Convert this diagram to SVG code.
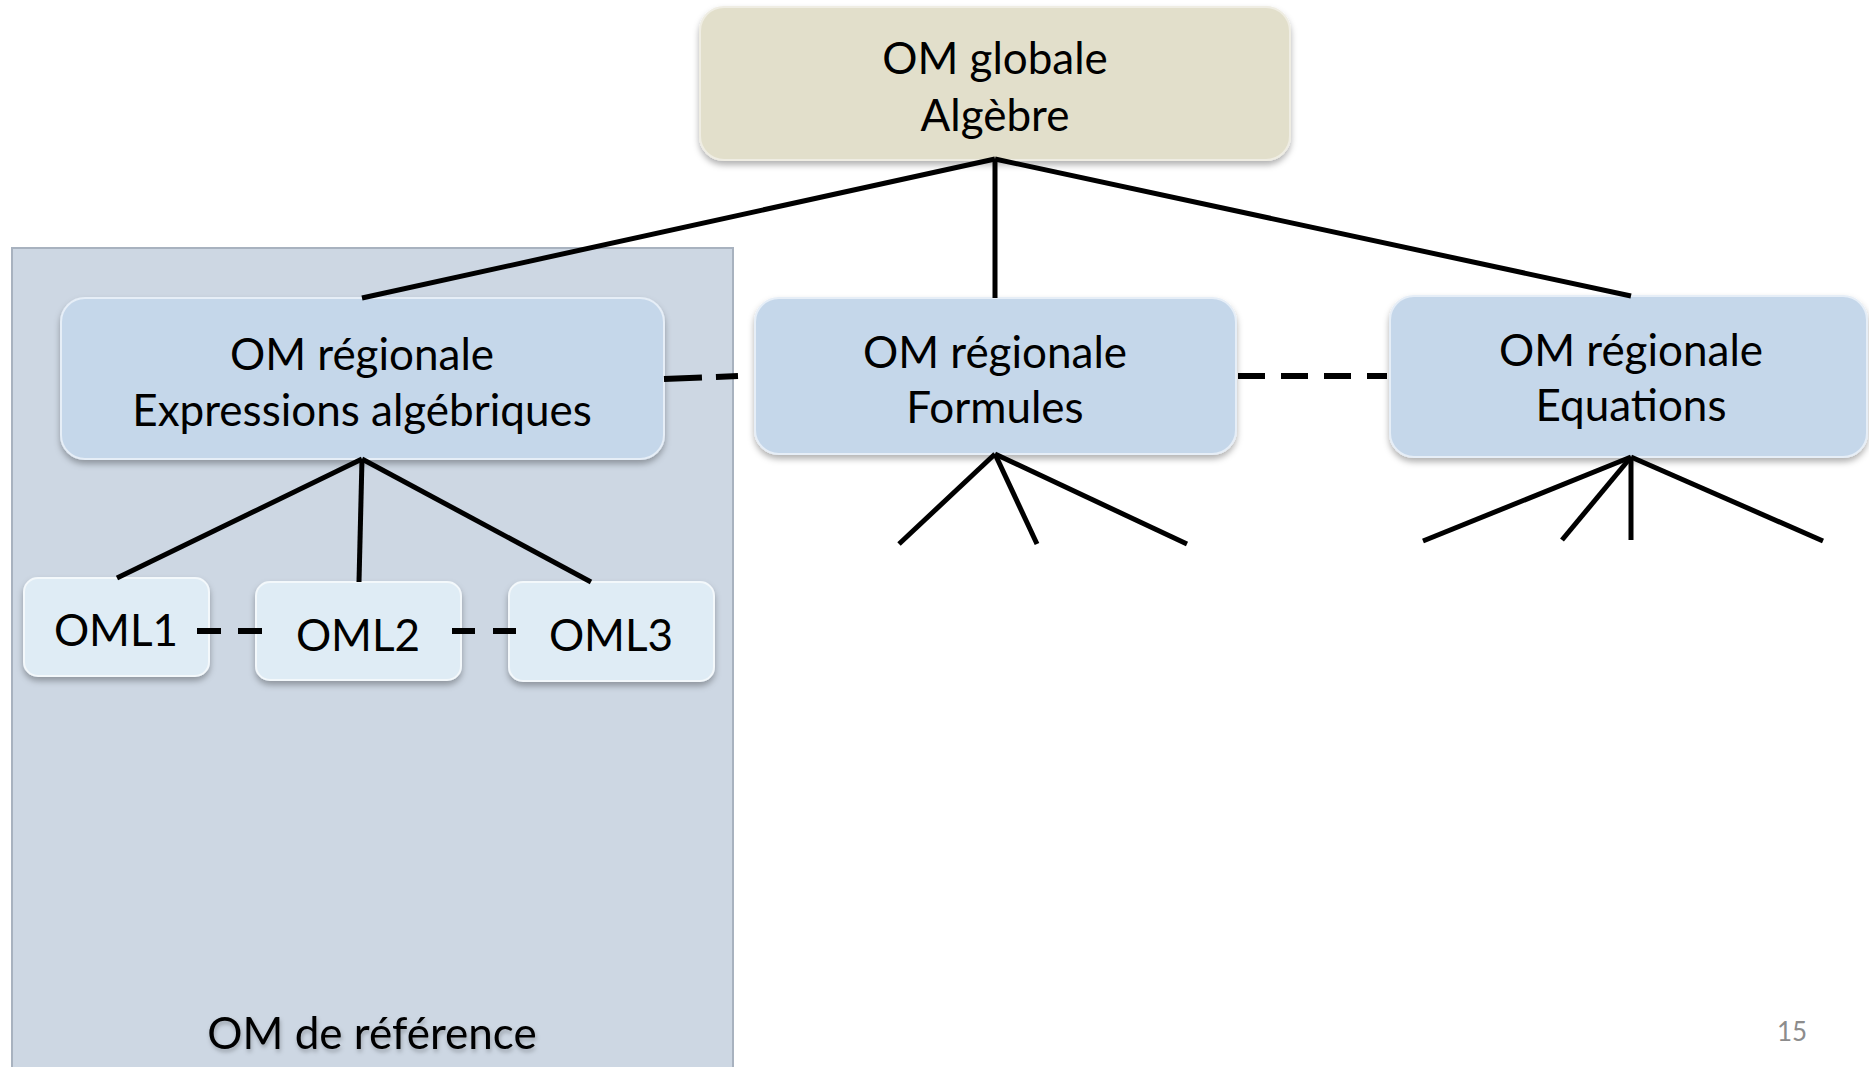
<svg xmlns="http://www.w3.org/2000/svg" width="1869" height="1067" viewBox="0 0 1869 1067">
<defs>
<filter id="sh" x="-10%" y="-10%" width="120%" height="130%">
<feDropShadow dx="0" dy="4" stdDeviation="3" flood-color="#000" flood-opacity="0.3"/>
</filter>
<filter id="tsh" x="-5%" y="-20%" width="110%" height="150%">
<feDropShadow dx="1" dy="3" stdDeviation="2" flood-color="#000" flood-opacity="0.25"/>
</filter>
</defs>
<style>
text{font-family:Lato,"Open Sans",sans-serif;fill:#000;text-anchor:middle}
.t{font-size:44px}
.reg{fill:#c5d7ea;stroke:#e6eef7;stroke-width:2}
.oml{fill:#dfecf5;stroke:#f3f8fb;stroke-width:2}
.solid{stroke:#000;stroke-width:5;fill:none}
.dash{stroke:#000;stroke-width:6;fill:none}
</style>
<rect x="0" y="0" width="1869" height="1067" fill="#fff"/>
<g id="panel">
<rect x="12" y="248" width="721" height="830" fill="#cdd7e3" stroke="#a8b2bf" stroke-width="2"/>
<text class="t" x="372" y="1049" filter="url(#tsh)">OM de référence</text>
</g>
<g id="om-globale">
<rect x="700" y="7" width="590" height="153" rx="24" fill="#e2dfcb" stroke="#efede3" stroke-width="2" filter="url(#sh)"/>
<text class="t" x="995" y="74">OM globale</text>
<text class="t" x="995" y="131">Algèbre</text>
</g>
<g id="om-expressions">
<rect class="reg" x="61" y="298" width="603" height="161" rx="24" filter="url(#sh)"/>
<text class="t" x="362" y="370">OM régionale</text>
<text class="t" x="362" y="426">Expressions algébriques</text>
</g>
<g id="om-formules">
<rect class="reg" x="755" y="298" width="481" height="156" rx="24" filter="url(#sh)"/>
<text class="t" x="995" y="368">OM régionale</text>
<text class="t" x="995" y="423">Formules</text>
</g>
<g id="om-equations">
<rect class="reg" x="1390" y="296" width="477" height="161" rx="24" filter="url(#sh)"/>
<text class="t" x="1631" y="366">OM régionale</text>
<text class="t" x="1631" y="421">Equations</text>
</g>
<g id="oml1">
<rect class="oml" x="24" y="578" width="185" height="98" rx="14" filter="url(#sh)"/>
<text class="t" x="116" y="646">OML1</text>
</g>
<g id="oml2">
<rect class="oml" x="256" y="582" width="205" height="98" rx="14" filter="url(#sh)"/>
<text class="t" x="358" y="651">OML2</text>
</g>
<g id="oml3">
<rect class="oml" x="509" y="582" width="205" height="99" rx="14" filter="url(#sh)"/>
<text class="t" x="611" y="651">OML3</text>
</g>
<g id="connectors">
<line class="solid" x1="995" y1="159" x2="362" y2="298"/>
<line class="solid" x1="995" y1="159" x2="995" y2="298"/>
<line class="solid" x1="995" y1="159" x2="1631" y2="296"/>
<line class="solid" x1="362" y1="459" x2="117" y2="578"/>
<line class="solid" x1="362" y1="459" x2="359" y2="582"/>
<line class="solid" x1="362" y1="459" x2="591" y2="582"/>
<line class="solid" x1="995" y1="454" x2="899" y2="544"/>
<line class="solid" x1="995" y1="454" x2="1037" y2="544"/>
<line class="solid" x1="995" y1="454" x2="1187" y2="544"/>
<line class="solid" x1="1631" y1="457" x2="1423" y2="541"/>
<line class="solid" x1="1631" y1="457" x2="1562" y2="540"/>
<line class="solid" x1="1631" y1="457" x2="1631" y2="540"/>
<line class="solid" x1="1631" y1="457" x2="1823" y2="541"/>
<line class="dash" x1="664" y1="379" x2="738" y2="376" stroke-dasharray="38,14"/>
<line class="dash" x1="1238" y1="376" x2="1387" y2="376" stroke-dasharray="27,16"/>
<line class="dash" x1="197" y1="631" x2="263" y2="631" stroke-dasharray="24,17"/>
<line class="dash" x1="452" y1="631" x2="516" y2="631" stroke-dasharray="23,18"/>
</g>
<text x="1792" y="1041" style="font-size:26px;fill:#8c8c8c">15</text>
</svg>
